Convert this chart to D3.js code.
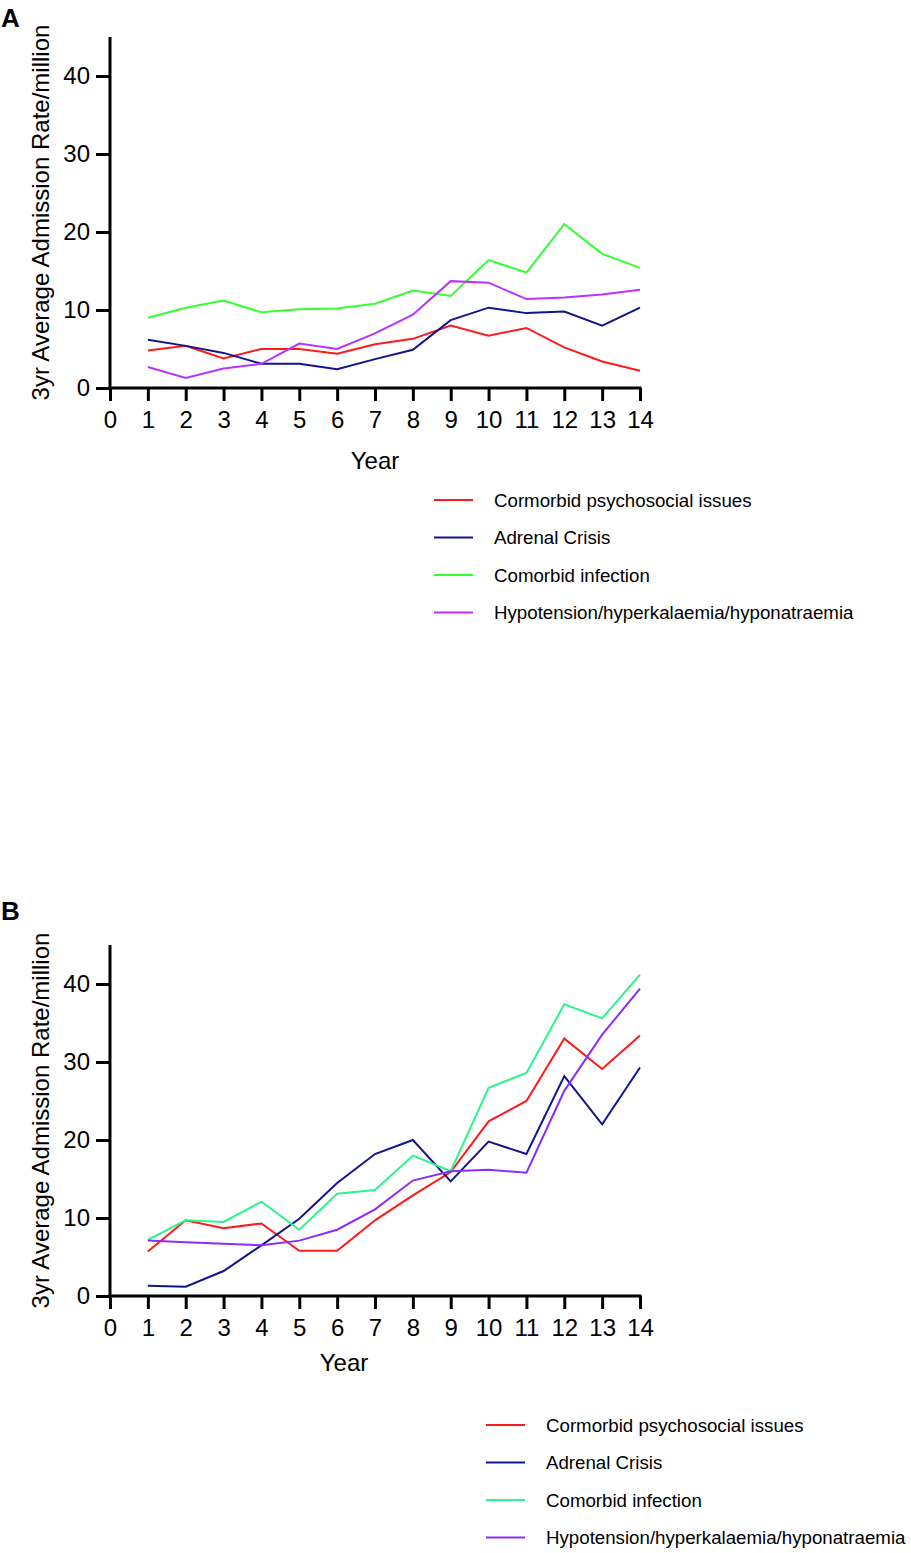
<!DOCTYPE html>
<html>
<head>
<meta charset="utf-8">
<script src="https://cdn.jsdelivr.net/npm/d3@7"></script>
<style>
  body { margin: 0; background: #fff; }
  text { font-family: Arial, "Liberation Sans", sans-serif; fill: #000; }
</style>
</head>
<body>
<div id="chart"></div>
<script>
// data
var years = [1, 2, 3, 4, 5, 6, 7, 8, 9, 10, 11, 12, 13, 14];
var xTicks = [0, 1, 2, 3, 4, 5, 6, 7, 8, 9, 10, 11, 12, 13, 14];
var yTicks = [0, 10, 20, 30, 40];
var seriesNames = ["Cormorbid psychosocial issues", "Adrenal Crisis", "Comorbid infection", "Hypotension/hyperkalaemia/hyponatraemia"];

var aPsycho = [4.8, 5.4, 3.8, 5.0, 5.0, 4.4, 5.6, 6.3, 8.0, 6.7, 7.7, 5.2, 3.4, 2.2];
var aAdrenal = [6.2, 5.4, 4.5, 3.1, 3.1, 2.4, 3.7, 4.9, 8.7, 10.3, 9.6, 9.8, 8.0, 10.3];
var aInfection = [9.0, 10.3, 11.2, 9.7, 10.1, 10.2, 10.8, 12.5, 11.8, 16.4, 14.8, 21.0, 17.2, 15.4];
var aHypo = [2.7, 1.3, 2.5, 3.1, 5.7, 5.0, 7.0, 9.4, 13.7, 13.5, 11.4, 11.6, 12.0, 12.6];

var bPsycho = [5.7, 9.7, 8.7, 9.3, 5.8, 5.8, 9.7, 12.9, 15.9, 22.4, 25.0, 33.0, 29.1, 33.4];
var bAdrenal = [1.3, 1.2, 3.2, 6.5, 9.9, 14.5, 18.2, 20.0, 14.7, 19.8, 18.2, 28.2, 22.0, 29.3];
var bInfection = [7.2, 9.7, 9.5, 12.1, 8.5, 13.1, 13.6, 18.0, 16.0, 26.7, 28.6, 37.4, 35.6, 41.2];
var bHypo = [7.1, 6.9, 6.7, 6.5, 7.1, 8.5, 11.1, 14.8, 16.0, 16.2, 15.8, 26.3, 33.5, 39.4];

var colorsA = ["#ff1a1a", "#14148c", "#33ff33", "#b833ff"];
var colorsB = ["#ff1a1a", "#14148c", "#2bf58c", "#8c2bff"];

var svg = d3.select("#chart").append("svg")
  .attr("width", 911)
  .attr("height", 1553);

function panel(letter, top, values, colors, labelY, yearX, yearDy, legendX, legendY) {
  var g = svg.append("g").attr("transform", `translate(0, ${top})`);

  var x = d3.scaleLinear().domain([0, 14]).range([110, 640]);
  var y = d3.scaleLinear().domain([0, 45]).range([351, 0]);

  g.append("text")
    .attr("x", 1).attr("y", labelY)
    .style("font-size", "26px").style("font-weight", "bold")
    .text(letter);

  // axes
  var xAxis = g.append("g")
    .attr("transform", `translate(0, ${y(0)})`)
    .call(d3.axisBottom(x).tickValues(xTicks).tickSize(13).tickPadding(10));
  var yAxis = g.append("g")
    .attr("transform", `translate(${x(0)}, 0)`)
    .call(d3.axisLeft(y).tickValues(yTicks).tickSize(14).tickPadding(6));

  [xAxis, yAxis].forEach(function (a) {
    a.select(".domain").attr("stroke", "#000").attr("stroke-width", 3)
      .attr("d", a === xAxis ? `M${x(0) - 1.5},0H${x(14) + 1.5}` : `M0,${y(0) + 1.5}V${y(45)}`);
    a.selectAll(".tick line").attr("stroke", "#000").attr("stroke-width", 3);
    a.selectAll(".tick text")
      .style("font-size", "24px")
      .style("font-family", "Arial, 'Liberation Sans', sans-serif");
  });

  // axis titles
  g.append("text")
    .attr("transform", `translate(49, ${y(22.5)}) rotate(-90)`)
    .attr("text-anchor", "middle")
    .style("font-size", "24px")
    .text("3yr Average Admission Rate/million");

  g.append("text")
    .attr("x", yearX).attr("y", y(0) + yearDy)
    .attr("text-anchor", "middle")
    .style("font-size", "24px")
    .text("Year");

  var line = d3.line()
    .x(function (d, i) { return x(years[i]); })
    .y(function (d) { return y(d); });

  values.forEach(function (v, i) {
    g.append("path")
      .datum(v)
      .attr("fill", "none")
      .attr("stroke", colors[i])
      .attr("stroke-width", 2)
      .attr("stroke-linejoin", "miter")
      .attr("d", line);
  });

  // legend
  var leg = g.append("g").attr("transform", `translate(${legendX}, ${legendY})`);
  seriesNames.forEach(function (name, i) {
    leg.append("line")
      .attr("x1", 0).attr("x2", 39)
      .attr("y1", i * 37.5).attr("y2", i * 37.5)
      .attr("stroke", colors[i]).attr("stroke-width", 2);
    leg.append("text")
      .attr("x", 60).attr("y", i * 37.5)
      .attr("dy", "0.35em")
      .style("font-size", "18.7px")
      .text(name);
  });
}

panel("A", 37, [aPsycho, aAdrenal, aInfection, aHypo], colorsA, -10, 375, 81, 434, 463);
panel("B", 945, [bPsycho, bAdrenal, bInfection, bHypo], colorsB, -25, 344, 75, 486, 480);
</script>
</body>
</html>
